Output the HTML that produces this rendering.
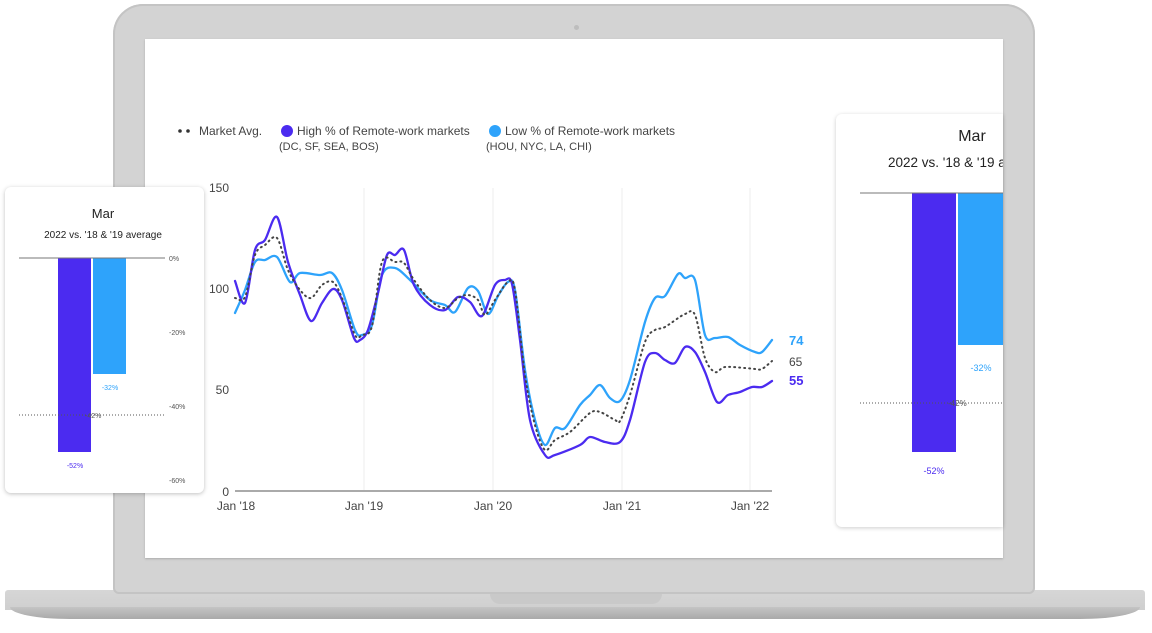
<!DOCTYPE html>
<html><head><meta charset="utf-8"><style>
html,body{margin:0;padding:0;background:#fff;}
body{width:1152px;height:633px;position:relative;overflow:hidden;font-family:"Liberation Sans",sans-serif;}
.abs{position:absolute;}
</style></head><body>
<!-- laptop base -->
<div class="abs" style="left:5px;top:590px;width:1140px;height:20px;background:linear-gradient(#d6d6d6,#cfcfcf);border-radius:3px 3px 0 0;"></div>
<div class="abs" style="left:10px;top:607px;width:1130px;height:12px;background:linear-gradient(#c4c4c4,#a9a9a9);border-radius:0 0 60px 60px/0 0 12px 12px;"></div>
<div class="abs" style="left:490px;top:592px;width:172px;height:12px;background:#c9c9c9;border-radius:0 0 10px 10px;"></div>
<!-- lid -->
<div class="abs" style="left:113px;top:4px;width:922px;height:590px;background:#d3d3d3;border-radius:30px 30px 6px 6px;box-shadow:inset 0 0 0 2px #c4c4c4;"></div>
<div class="abs" style="left:574px;top:25px;width:5px;height:5px;border-radius:50%;background:#bdbdbd;"></div>
<div class="abs" style="left:145px;top:39px;width:858px;height:519px;background:#fff;box-shadow:0 1px 2px #aaa;"></div>

<svg class="abs" style="left:0;top:0" width="1152" height="633" xmlns="http://www.w3.org/2000/svg" font-family="Liberation Sans, sans-serif">
<!-- legend -->
<circle cx="180" cy="131" r="1.8" fill="#333"/><circle cx="188" cy="131" r="1.8" fill="#333"/>
<text x="199" y="135" font-size="12" fill="#444">Market Avg.</text>
<circle cx="287" cy="131" r="6" fill="#4b2bf0"/>
<text x="297" y="135" font-size="12" fill="#444">High % of Remote-work markets</text>
<text x="279" y="150" font-size="11" fill="#444">(DC, SF, SEA, BOS)</text>
<circle cx="495" cy="131" r="6" fill="#2ea3fb"/>
<text x="505" y="135" font-size="12" fill="#444">Low % of Remote-work markets</text>
<text x="486" y="150" font-size="11" fill="#444">(HOU, NYC, LA, CHI)</text>
<!-- grid -->
<g stroke="#eee" stroke-width="1">
<line x1="364" y1="188" x2="364" y2="491"/><line x1="493" y1="188" x2="493" y2="491"/>
<line x1="622" y1="188" x2="622" y2="491"/><line x1="750" y1="188" x2="750" y2="491"/>
</g>
<line x1="235" y1="491" x2="772" y2="491" stroke="#aaa" stroke-width="2"/>
<g font-size="12" fill="#444" text-anchor="end">
<text x="229" y="192">150</text><text x="229" y="293">100</text><text x="229" y="394">50</text><text x="229" y="496">0</text>
</g>
<g font-size="12" fill="#444" text-anchor="middle">
<text x="236" y="510">Jan '18</text><text x="364" y="510">Jan '19</text><text x="493" y="510">Jan '20</text><text x="622" y="510">Jan '21</text><text x="750" y="510">Jan '22</text>
</g>
<g fill="none" stroke-linejoin="round" stroke-linecap="round">
<path id="pb" stroke="#2ea3fb" stroke-width="2.3" data-p="235,313 245,290 255,262 265,260 277,257 290,282 300,273 320,275 332,273 342,290 355,330 362,335 372,325 382,275 395,268 410,280 430,300 445,305 455,312 468,288 478,291 488,314 498,296 508,282 515,290 525,370 535,420 545,445 555,428 565,428 580,405 590,395 600,385 610,398 620,401 630,380 645,322 655,298 665,296 678,274 685,278 695,280 705,335 715,338 728,337 740,345 755,352 762,352 772,340"/>
<path id="pp" stroke="#4b2bf0" stroke-width="2.3" data-p="235,281 245,303 255,250 265,240 277,217 288,262 300,295 311,321 322,303 333,289 342,300 354,338 360,340 368,330 378,293 387,255 395,255 404,250 414,285 430,305 445,310 458,297 470,302 482,316 495,285 505,280 512,284 520,340 530,420 545,455 555,455 580,445 590,437 605,442 620,442 630,420 645,362 655,353 665,360 675,363 685,347 695,352 705,372 717,402 728,395 740,392 752,387 762,387 772,381"/>
<path id="pa" stroke="#444" stroke-width="2" stroke-dasharray="1 4" data-p="235,298 245,297 255,255 265,245 277,238 288,270 300,290 311,298 322,285 333,282 342,298 355,335 362,335 372,326 382,262 395,262 404,263 414,280 430,300 445,308 458,298 468,295 478,300 485,315 495,300 508,282 515,290 525,375 535,425 545,450 555,440 570,432 590,413 600,412 615,420 620,421 630,395 645,342 655,330 665,327 685,314 695,315 705,358 715,372 725,367 745,368 755,369 762,369 772,361"/>
</g>
<text x="789" y="345" font-size="13" font-weight="bold" fill="#2ea3fb">74</text>
<text x="789" y="366" font-size="12" fill="#444">65</text>
<text x="789" y="385" font-size="13" font-weight="bold" fill="#4b2bf0">55</text>
</svg>
<script>
['pb','pp','pa'].forEach(function(id){
 var el=document.getElementById(id);
 var p=el.getAttribute('data-p').split(' ').map(function(s){return s.split(',').map(Number);});
 var d='M'+p[0][0]+','+p[0][1];
 for(var i=0;i<p.length-1;i++){
  var p0=p[i-1]||p[i],p1=p[i],p2=p[i+1],p3=p[i+2]||p2;
  var t=0.16;
  var c1x=p1[0]+(p2[0]-p0[0])*t,c1y=p1[1]+(p2[1]-p0[1])*t;
  var c2x=p2[0]-(p3[0]-p1[0])*t,c2y=p2[1]-(p3[1]-p1[1])*t;
  d+=' C'+c1x.toFixed(1)+','+c1y.toFixed(1)+' '+c2x.toFixed(1)+','+c2y.toFixed(1)+' '+p2[0]+','+p2[1];
 }
 el.setAttribute('d',d);
});
</script>

<!-- left card -->
<div class="abs" style="left:5px;top:187px;width:199px;height:306px;background:#fff;border-radius:6px;box-shadow:0 1px 4px rgba(0,0,0,.25);"></div>
<svg class="abs" style="left:0;top:0" width="220" height="500" font-family="Liberation Sans, sans-serif">
<text x="103" y="218" font-size="13" text-anchor="middle" fill="#222">Mar</text>
<text x="103" y="238" font-size="10" text-anchor="middle" fill="#222">2022 vs. '18 &amp; '19 average</text>
<rect x="58" y="258" width="33" height="194" fill="#4b2bf0"/>
<rect x="93" y="258" width="33" height="116" fill="#2ea3fb"/>
<line x1="19" y1="258" x2="165" y2="258" stroke="#777" stroke-width="1"/>
<line x1="19" y1="415" x2="165" y2="415" stroke="#555" stroke-dasharray="1 2"/>
<g font-size="7" fill="#555">
<text x="169" y="261">0%</text><text x="169" y="335">-20%</text><text x="169" y="409">-40%</text><text x="169" y="483">-60%</text>
<text x="85" y="418">-42%</text>
</g>
<text x="110" y="390" font-size="7" fill="#2ea3fb" text-anchor="middle">-32%</text>
<text x="75" y="468" font-size="7" fill="#4b2bf0" text-anchor="middle">-52%</text>
</svg>

<!-- right card -->
<div class="abs" style="left:836px;top:114px;width:167px;height:413px;background:#fff;border-radius:6px 0 0 6px;box-shadow:0 1px 4px rgba(0,0,0,.2);overflow:hidden;">
<svg class="abs" style="left:-836px;top:-114px" width="1010" height="540" font-family="Liberation Sans, sans-serif">
<text x="972" y="141" font-size="16" text-anchor="middle" fill="#222">Mar</text>
<text x="888" y="167" font-size="13.5" fill="#222">2022 vs. '18 &amp; '19 average</text>
<rect x="912" y="193" width="44" height="259" fill="#4b2bf0"/>
<rect x="958" y="193" width="50" height="152" fill="#2ea3fb"/>
<line x1="860" y1="193" x2="1010" y2="193" stroke="#777"/>
<line x1="860" y1="403" x2="1010" y2="403" stroke="#555" stroke-dasharray="1 2"/>
<text x="948" y="406" font-size="8" fill="#555">-42%</text>
<text x="981" y="371" font-size="9" fill="#2ea3fb" text-anchor="middle">-32%</text>
<text x="934" y="474" font-size="9" fill="#4b2bf0" text-anchor="middle">-52%</text>
</svg>
</div>
</body></html>
